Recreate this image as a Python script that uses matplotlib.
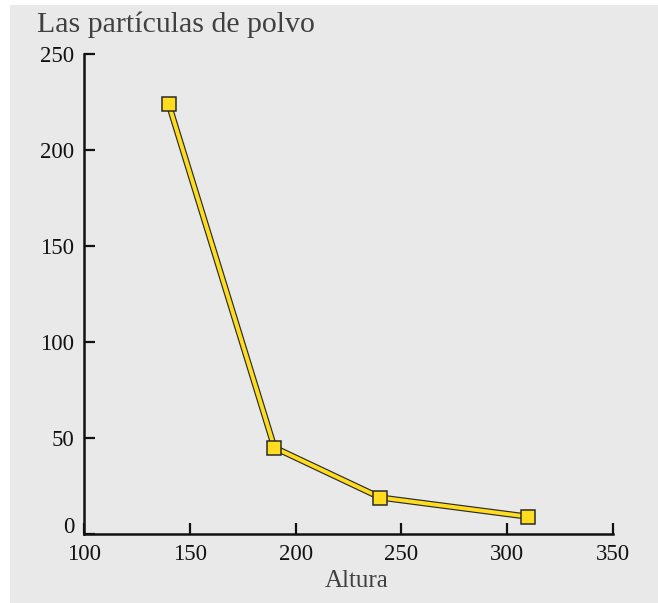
"""Dust particle count vs. altitude line chart -> out.png."""
import matplotlib

matplotlib.use("Agg")
import matplotlib.pyplot as plt  # noqa: E402
import matplotlib.transforms as mtransforms  # noqa: E402
from matplotlib.patches import Rectangle  # noqa: E402

# data
altura = [140, 190, 240, 310]
particulas = [224, 45, 19, 9]
x_ticks = [100, 150, 200, 250, 300, 350]
y_ticks = [0, 50, 100, 150, 200, 250]

BG = "#e9e9e9"
YELLOW = "#ffdc1e"
EDGE = "#2b2b2b"
TEXT_GRAY = "#404040"

plt.rcParams["font.family"] = ["Liberation Serif", "DejaVu Serif"]

fig = plt.figure(figsize=(6.58, 6.03), dpi=100)
fig.patches.append(Rectangle((10 / 658, 0), 648 / 658, 598 / 603,
                             transform=fig.transFigure, facecolor=BG,
                             edgecolor="none", zorder=-5))

ax = fig.add_axes([84 / 658, 1 - 534 / 603, 529 / 658, 480 / 603])
ax.set_facecolor("none")
ax.set_zorder(2)

# outlined yellow line, then square markers on top
ax.plot(altura, particulas, color=EDGE, lw=4.5, solid_capstyle="butt",
        zorder=2, clip_on=False)
ax.plot(altura, particulas, color=YELLOW, lw=2.8, solid_capstyle="butt",
        zorder=3, clip_on=False)
ax.plot(altura, particulas, ls="none", marker="s", ms=9.5, mfc=YELLOW,
        mec=EDGE, mew=1.1, zorder=4, clip_on=False)

ax.set_xlim(100, 350)
ax.set_ylim(0, 250)
ax.set_xticks(x_ticks)
ax.set_yticks(y_ticks)

for side in ("top", "right"):
    ax.spines[side].set_visible(False)
for side in ("left", "bottom"):
    ax.spines[side].set_linewidth(1.8)
    ax.spines[side].set_color("#111111")

ax.tick_params(direction="in", length=8, width=1.6, color="#111111",
               labelsize=16.5, labelcolor="#111111")
ax.tick_params(axis="y", pad=7)
ax.tick_params(axis="x", pad=7)

# the "0" label sits a little above the bottom spine in the reference
fig.canvas.draw()
zero_label = ax.get_yticklabels()[0]
zero_label.set_transform(zero_label.get_transform()
                         + mtransforms.ScaledTranslation(0, 9 / 100,
                                                         fig.dpi_scale_trans))

ax.set_xlabel("Altura", fontsize=18, color=TEXT_GRAY, labelpad=2)
ax.xaxis.set_label_coords(0.516, -0.075)

fig.text(37 / 658, 1 - 32 / 603, "Las partículas de polvo", fontsize=21.5,
         color=TEXT_GRAY, ha="left", va="baseline", zorder=3)

fig.savefig("out.png", dpi=100)
